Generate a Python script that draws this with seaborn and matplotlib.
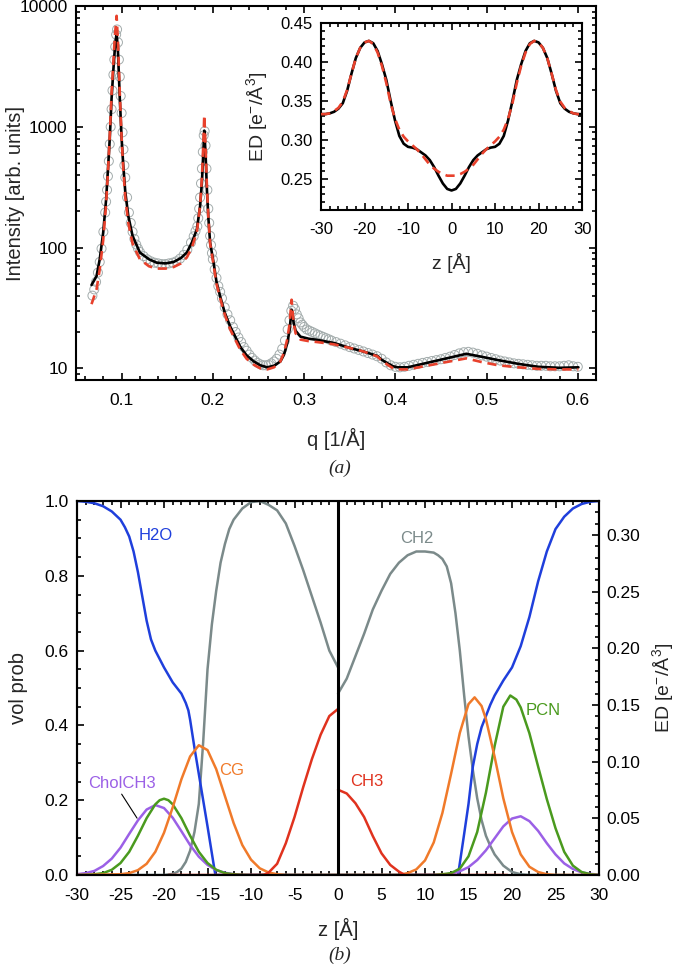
import matplotlib
matplotlib.use("Agg")
import matplotlib.pyplot as plt
import seaborn as sns
from matplotlib.ticker import MultipleLocator, FixedLocator, LogLocator, NullFormatter, FormatStrFormatter

sns.set_style("ticks")
plt.rcParams["font.family"] = ["Liberation Sans", "DejaVu Sans"]
plt.rcParams["mathtext.default"] = "regular"
plt.rcParams["axes.linewidth"] = 1.5
plt.rcParams["axes.unicode_minus"] = False

# ---------------- (a) scattering data ----------------
q_data = [0.068, 0.070, 0.072, 0.074, 0.076, 0.078, 0.080, 0.082, 0.083, 0.084,
          0.085, 0.086, 0.087, 0.088, 0.089, 0.090, 0.091, 0.092, 0.093, 0.094,
          0.095, 0.096, 0.097, 0.098, 0.099, 0.100, 0.101, 0.102, 0.103, 0.104,
          0.106, 0.108, 0.110, 0.112, 0.114, 0.116, 0.118, 0.120, 0.124, 0.128,
          0.132, 0.136, 0.140, 0.144, 0.148, 0.152, 0.156, 0.160, 0.164, 0.168,
          0.172, 0.176, 0.179, 0.181, 0.183, 0.184, 0.185, 0.186, 0.187, 0.188,
          0.189, 0.190, 0.191, 0.192, 0.193, 0.194, 0.195, 0.196, 0.197, 0.198,
          0.199, 0.200, 0.202, 0.204, 0.206, 0.208, 0.210, 0.213, 0.216, 0.219,
          0.222, 0.225, 0.228, 0.231, 0.234, 0.237, 0.240, 0.243, 0.246, 0.249,
          0.252, 0.255, 0.258, 0.261, 0.264, 0.267, 0.270, 0.273, 0.276, 0.279,
          0.282, 0.284, 0.286, 0.288, 0.290, 0.292, 0.294, 0.296, 0.298, 0.300,
          0.303, 0.306, 0.309, 0.312, 0.315, 0.318, 0.321, 0.324, 0.327, 0.330,
          0.335, 0.340, 0.345, 0.350, 0.355, 0.360, 0.365, 0.370, 0.375, 0.380,
          0.385, 0.390, 0.395, 0.400, 0.405, 0.410, 0.415, 0.420, 0.425, 0.430,
          0.435, 0.440, 0.445, 0.450, 0.455, 0.460, 0.465, 0.470, 0.475, 0.480,
          0.485, 0.490, 0.495, 0.500, 0.505, 0.510, 0.515, 0.520, 0.525, 0.530,
          0.535, 0.540, 0.545, 0.550, 0.555, 0.560, 0.565, 0.570, 0.575, 0.580,
          0.585, 0.590, 0.595, 0.600]
I_data = [40, 45, 52, 62, 76, 98, 135, 195, 240, 300,
          390, 520, 720, 1000, 1400, 2000, 2700, 3600, 4600, 5800,
          6400, 5000, 3600, 2600, 1800, 1300, 900, 650, 480, 380,
          260, 195, 160, 135, 118, 106, 98, 92, 85, 80,
          77, 75, 74, 73, 73, 74, 75, 77, 81, 87,
          96, 110, 124, 137, 150, 175, 210, 260, 340, 450,
          620, 850, 920, 700, 450, 300, 210, 160, 125, 105,
          90, 80, 66, 56, 48, 43, 38, 32, 28, 25,
          22, 20, 18, 16.5, 15, 14, 13, 12.2, 11.6, 11.1,
          10.8, 10.6, 10.6, 10.7, 11, 11.4, 12, 13, 14.5, 17,
          21, 25, 30, 33, 31, 28, 26, 24, 23, 22,
          21, 20.5, 20, 19.5, 19, 18.6, 18.2, 17.8, 17.4, 17,
          16.5, 16, 15.5, 15, 14.6, 14.2, 13.8, 13.4, 13, 12.6,
          12, 11.2, 10.6, 10.3, 10.2, 10.3, 10.5, 10.7, 10.9, 11.1,
          11.3, 11.5, 11.7, 11.9, 12.2, 12.5, 12.9, 13.3, 13.6, 13.7,
          13.5, 13.2, 12.8, 12.5, 12.2, 11.9, 11.6, 11.4, 11.2, 11.0,
          10.9, 10.8, 10.7, 10.6, 10.5, 10.5, 10.5, 10.4, 10.4, 10.4,
          10.5, 10.6, 10.4, 10.3]

q_fit = [0.067, 0.0725, 0.076, 0.0798, 0.083, 0.0853, 0.087, 0.089, 0.091, 0.0926,
         0.0945, 0.096, 0.098, 0.100, 0.1018, 0.104, 0.1073, 0.112, 0.120, 0.130,
         0.1385, 0.148, 0.157, 0.165, 0.1715, 0.177, 0.1825, 0.186, 0.188, 0.1895,
         0.1906, 0.192, 0.1935, 0.195, 0.197, 0.2008, 0.204, 0.208, 0.213, 0.219,
         0.225, 0.230, 0.237, 0.245, 0.252, 0.2596, 0.267, 0.274, 0.278, 0.2816,
         0.284, 0.2863, 0.2885, 0.2907, 0.296, 0.305, 0.3146, 0.333, 0.351, 0.365,
         0.377, 0.380, 0.385, 0.3916, 0.3976, 0.4026, 0.4136, 0.4457, 0.4778, 0.494,
         0.5127, 0.5347, 0.5567, 0.580, 0.6007]
I_fit_black = [49, 58, 80, 133, 250, 480, 800, 1720, 3000, 4470,
               6000, 4200, 1720, 800, 480, 290, 183, 125, 91, 80,
               75, 74, 76, 82, 91, 110, 142, 220, 347, 600,
               930, 600, 300, 180, 110, 75, 52, 39.5, 29, 22.2,
               18, 15.1, 12.8, 11.4, 10.6, 10.2, 10.5, 11.4, 13, 16.2,
               20.5, 30.6, 24, 20.5, 18.3, 17.6, 17.2, 16.2, 14.7, 13.8,
               12.9, 12.7, 11.8, 11.0, 10.4, 10.2, 10.2, 11.6, 13.2, 12.5,
               11.7, 10.9, 10.3, 10.1, 10.2]
I_fit_red = [34, 45, 66, 115, 230, 460, 850, 1900, 3500, 5600,
             8300, 5000, 1900, 800, 450, 260, 160, 108, 80, 70,
             67, 67, 69, 74, 83, 100, 135, 220, 380, 700,
             1250, 700, 320, 180, 108, 72, 50, 38, 28, 21,
             17, 14.3, 12.0, 10.7, 10.0, 9.8, 10.2, 11.4, 13.5, 17.5,
             23, 37, 24, 19.5, 17.3, 16.8, 16.5, 15.8, 14.7, 13.8,
             12.8, 12.6, 11.6, 10.7, 10.0, 9.8, 9.8, 10.9, 12.1, 11.3,
             10.6, 10.2, 9.9, 9.8, 9.8]

# ---------------- inset: electron density ----------------
z_ed = [-30, -29, -28, -27, -26, -25, -24, -23, -22, -21, -20, -19, -18, -17, -16,
        -15, -14, -13, -12, -11, -10, -9, -8, -7, -6, -5, -4, -3, -2, -1, 0,
        1, 2, 3, 4, 5, 6, 7, 8, 9, 10, 11, 12, 13, 14, 15,
        16, 17, 18, 19, 20, 21, 22, 23, 24, 25, 26, 27, 28, 29, 30]
ed_black = [0.333, 0.333, 0.334, 0.336, 0.340, 0.347, 0.363, 0.385, 0.405, 0.418, 0.425, 0.427, 0.424, 0.414, 0.397,
            0.377, 0.350, 0.325, 0.305, 0.295, 0.291, 0.290, 0.288, 0.284, 0.280, 0.274, 0.265, 0.254, 0.244, 0.237, 0.235,
            0.237, 0.244, 0.254, 0.265, 0.274, 0.280, 0.284, 0.288, 0.290, 0.291, 0.295, 0.305, 0.325, 0.350, 0.377,
            0.397, 0.414, 0.424, 0.427, 0.425, 0.418, 0.405, 0.385, 0.363, 0.347, 0.340, 0.336, 0.334, 0.333, 0.333]
ed_red = [0.333, 0.333, 0.334, 0.337, 0.341, 0.349, 0.364, 0.385, 0.405, 0.418, 0.425, 0.427, 0.423, 0.412, 0.395,
          0.373, 0.347, 0.327, 0.313, 0.304, 0.298, 0.293, 0.288, 0.282, 0.275, 0.268, 0.263, 0.259, 0.256, 0.254, 0.254,
          0.254, 0.256, 0.259, 0.263, 0.268, 0.275, 0.282, 0.288, 0.293, 0.298, 0.304, 0.313, 0.327, 0.347, 0.373,
          0.395, 0.412, 0.423, 0.427, 0.425, 0.418, 0.405, 0.385, 0.364, 0.349, 0.341, 0.337, 0.334, 0.333, 0.333]

# ---------------- (b) volume probabilities ----------------
# left half (z < 0)
z_h2o_l = [-30, -29, -28, -27, -26, -25, -24.5, -24, -23.5, -23, -22.5, -22, -21.5, -21, -20,
           -19, -18, -17.5, -17.2, -17, -16.5, -16, -15, -14.1, -10, -5, 0]
h2o_l = [1.0, 0.998, 0.994, 0.986, 0.972, 0.95, 0.93, 0.905, 0.865, 0.81, 0.745, 0.68, 0.63, 0.6, 0.555,
         0.515, 0.485, 0.46, 0.44, 0.415, 0.34, 0.27, 0.13, 0.0, 0.0, 0.0, 0.0]
z_ch2_l = [-30, -20, -19, -18.5, -18, -17.5, -17, -16.5, -16, -15.5, -15, -14.5, -14, -13.5, -13,
           -12.5, -12, -11, -10, -9, -8, -7, -6, -5, -4, -3, -2, -1, 0]
ch2_l = [0.0, 0.0, 0.003, 0.008, 0.017, 0.035, 0.065, 0.115, 0.19, 0.355, 0.55, 0.67, 0.76, 0.835, 0.885,
         0.925, 0.95, 0.98, 0.997, 1.0, 0.99, 0.975, 0.94, 0.88, 0.815, 0.745, 0.675, 0.6, 0.555]
z_cg_l = [-30, -25, -24, -23, -22, -21, -20, -19, -18, -17, -16, -15, -14, -13, -12,
          -11, -10, -9, -8, -7, -6, 0]
cg_l = [0.0, 0.002, 0.005, 0.013, 0.03, 0.062, 0.113, 0.181, 0.256, 0.317, 0.347, 0.334, 0.283, 0.211, 0.139,
        0.08, 0.041, 0.018, 0.007, 0.002, 0.0, 0.0]
z_chol_l = [-30, -29, -28, -27, -26, -25, -24, -23, -22, -21, -20, -19, -18, -17, -16,
            -15, -14, -13, -12, -11, 0]
chol_l = [0.002, 0.005, 0.011, 0.024, 0.044, 0.073, 0.110, 0.146, 0.175, 0.187, 0.179, 0.153, 0.117, 0.080, 0.049,
          0.027, 0.013, 0.006, 0.002, 0.0, 0.0]
z_pcn_l = [-30, -29, -28, -27, -26, -25, -24, -23, -22, -21, -20.5, -20, -19.5, -19, -18,
           -17, -16, -15, -14, -13, -12, -11, -10, 0]
pcn_l = [0.0, 0.0005, 0.002, 0.005, 0.014, 0.032, 0.062, 0.105, 0.152, 0.189, 0.2, 0.204, 0.2, 0.189, 0.152,
         0.105, 0.062, 0.032, 0.014, 0.005, 0.002, 0.0005, 0.0, 0.0]
z_ch3_l = [-19.5, -9, -8.5, -8, -7, -6, -5, -4, -3, -2, -1, 0]
ch3_l = [0.0, 0.0, 0.001, 0.006, 0.03, 0.085, 0.155, 0.235, 0.31, 0.375, 0.425, 0.444]

# right half (z > 0)
z_h2o_r = [0, 13.8, 14.5, 15, 15.5, 16, 16.5, 17, 17.5, 18, 19, 20, 21, 22, 23,
           24, 25, 26, 27, 28, 29, 30]
h2o_r = [0.0, 0.0, 0.11, 0.19, 0.29, 0.35, 0.395, 0.425, 0.455, 0.48, 0.52, 0.555, 0.612, 0.69, 0.785,
         0.865, 0.925, 0.958, 0.98, 0.992, 0.998, 1.0]
z_ch2_r = [0, 1, 2, 3, 4, 5, 6, 7, 8, 9, 10, 11, 11.5, 12, 12.5,
           13, 13.5, 14, 14.5, 15, 15.5, 16, 16.5, 17, 17.5, 18, 19, 20, 21, 22, 30]
ch2_r = [0.485, 0.525, 0.585, 0.645, 0.71, 0.76, 0.805, 0.835, 0.855, 0.865, 0.865, 0.862, 0.855, 0.845, 0.825,
         0.78, 0.70, 0.60, 0.48, 0.37, 0.28, 0.205, 0.147, 0.105, 0.078, 0.055, 0.025, 0.008, 0.002, 0.0, 0.0]
z_cg_r = [0, 7, 8, 9, 10, 11, 12, 13, 14, 15, 15.7, 16.5, 17, 18, 19,
          20, 21, 22, 23, 24, 25, 30]
cg_r = [0.0, 0.0, 0.005, 0.015, 0.039, 0.087, 0.166, 0.271, 0.380, 0.457, 0.475, 0.452, 0.417, 0.316, 0.205,
        0.115, 0.055, 0.022, 0.008, 0.002, 0.0, 0.0]
z_pcn_r = [0, 11, 12, 13, 14, 15, 16, 17, 18, 19, 19.8, 20.5, 21, 22, 23,
           24, 25, 26, 27, 28, 29, 30]
pcn_r = [0.0, 0.0, 0.002, 0.005, 0.017, 0.05, 0.115, 0.22, 0.345, 0.45, 0.48, 0.469, 0.448, 0.379, 0.29,
         0.203, 0.125, 0.062, 0.025, 0.008, 0.002, 0.0]
z_chol_r = [0, 12, 13, 14, 15, 16, 17, 18, 19, 20, 21, 22, 23, 24, 25,
            26, 27, 28, 29, 30]
chol_r = [0.0, 0.0, 0.004, 0.010, 0.021, 0.040, 0.066, 0.098, 0.130, 0.151, 0.157, 0.144, 0.118, 0.085, 0.055,
          0.031, 0.016, 0.007, 0.003, 0.001]
z_ch3_r = [0, 1, 2, 3, 4, 5, 6, 7, 7.7, 19.5]
ch3_r = [0.228, 0.218, 0.192, 0.155, 0.104, 0.058, 0.027, 0.009, 0.0, 0.0]

c_h2o = "#1f3fdc"
c_ch2 = "#7b8a8a"
c_cg = "#f07a2a"
c_ch3 = "#e0321e"
c_pcn = "#4a9a1e"
c_chol = "#9b60e6"
c_dash = "#e8412c"

fig = plt.figure(figsize=(6.78, 9.77), dpi=100)


def tick_style(ax, xpad=9, ypad=6):
    ax.tick_params(which="both", direction="in", width=1.2, labelsize=12.5, colors="black")
    ax.tick_params(which="major", length=5)
    ax.tick_params(which="minor", length=3)
    ax.tick_params(axis="x", pad=xpad)
    ax.tick_params(axis="y", pad=ypad)
    for s in ax.spines.values():
        s.set_linewidth(1.5)
        s.set_color("black")


# ---------- panel (a) ----------
ax1 = fig.add_axes([0.1121, 0.6110, 0.7670, 0.3828])
sns.scatterplot(x=q_data, y=I_data, ax=ax1, marker="o", s=42, color="#a3acac",
                facecolor="none", edgecolor="#a3acac", linewidth=0.7, zorder=1)
sns.lineplot(x=q_fit, y=I_fit_black, ax=ax1, color="black", lw=1.9, zorder=3)
sns.lineplot(x=q_fit, y=I_fit_red, ax=ax1, color=c_dash, lw=1.9,
             linestyle=(0, (3.5, 2.2)), zorder=4)
ax1.set_yscale("log")
ax1.set_xlim(0.05, 0.62)
ax1.set_ylim(8, 10000)
ax1.yaxis.set_major_locator(FixedLocator([10, 100, 1000, 10000]))
ax1.set_yticklabels(["10", "100", "1000", "10000"])
ax1.yaxis.set_minor_locator(LogLocator(base=10, subs=range(2, 10)))
ax1.yaxis.set_minor_formatter(NullFormatter())
ax1.xaxis.set_major_locator(FixedLocator([0.1, 0.2, 0.3, 0.4, 0.5, 0.6]))
ax1.xaxis.set_major_formatter(FormatStrFormatter("%.1f"))
ax1.xaxis.set_minor_locator(MultipleLocator(0.02))
tick_style(ax1)
ax1.tick_params(which="both", top=True, right=True)
ax1.set_xlabel("q [1/Å]", fontsize=14.5)
ax1.set_ylabel("Intensity [arb. units]", fontsize=14.5)
ax1.xaxis.set_label_coords(0.5, -0.128)
ax1.yaxis.set_label_coords(-0.098, 0.5)

# inset
axi = fig.add_axes([0.4735, 0.7851, 0.3850, 0.1914])
sns.lineplot(x=z_ed, y=ed_black, ax=axi, color="black", lw=1.9, zorder=3)
sns.lineplot(x=z_ed, y=ed_red, ax=axi, color=c_dash, lw=1.9,
             linestyle=(0, (3.5, 2.2)), zorder=4)
axi.set_xlim(-30, 30)
axi.set_ylim(0.21, 0.45)
axi.xaxis.set_major_locator(MultipleLocator(10))
axi.xaxis.set_minor_locator(MultipleLocator(2))
axi.yaxis.set_major_locator(FixedLocator([0.25, 0.30, 0.35, 0.40, 0.45]))
axi.yaxis.set_major_formatter(FormatStrFormatter("%.2f"))
axi.yaxis.set_minor_locator(MultipleLocator(0.01))
tick_style(axi)
axi.tick_params(which="both", top=True, right=True, labelsize=12)
axi.set_xlabel("z [Å]", fontsize=14)
axi.set_ylabel(r"ED [e$^{-}$/Å$^{3}$]", fontsize=14)
axi.xaxis.set_label_coords(0.5, -0.23)
axi.yaxis.set_label_coords(-0.195, 0.5)

fig.text(0.5015, 1 - 468 / 977, "(a)", ha="center", va="center",
         family=["Liberation Serif", "DejaVu Serif"], style="italic", fontsize=14)

# ---------- panel (b) ----------
ax2 = fig.add_axes([0.1136, 0.1044, 0.7699, 0.3828])
left_curves = [(z_ch2_l, ch2_l, c_ch2), (z_h2o_l, h2o_l, c_h2o), (z_chol_l, chol_l, c_chol),
               (z_pcn_l, pcn_l, c_pcn), (z_cg_l, cg_l, c_cg), (z_ch3_l, ch3_l, c_ch3)]
right_curves = [(z_ch2_r, ch2_r, c_ch2), (z_h2o_r, h2o_r, c_h2o), (z_chol_r, chol_r, c_chol),
                (z_pcn_r, pcn_r, c_pcn), (z_cg_r, cg_r, c_cg), (z_ch3_r, ch3_r, c_ch3)]
for zz, vv, cc in left_curves + right_curves:
    sns.lineplot(x=zz, y=vv, ax=ax2, color=cc, lw=1.8, zorder=2)
ax2.axvline(0, color="black", lw=2.2, zorder=5)
ax2.set_xlim(-30, 30)
ax2.set_ylim(0, 1.0)
ax2.xaxis.set_major_locator(MultipleLocator(5))
ax2.xaxis.set_minor_locator(MultipleLocator(1))
ax2.yaxis.set_major_locator(MultipleLocator(0.2))
ax2.yaxis.set_major_formatter(FormatStrFormatter("%.1f"))
ax2.yaxis.set_minor_locator(MultipleLocator(0.05))
tick_style(ax2)
ax2.tick_params(which="both", top=True, right=False)
ax2.set_xlabel("z [Å]", fontsize=14.5)
ax2.set_ylabel("vol prob", fontsize=14.5)
ax2.xaxis.set_label_coords(0.5, -0.115)
ax2.yaxis.set_label_coords(-0.094, 0.5)

ax2r = ax2.twinx()
ax2r.set_ylim(0, 0.33)
ax2r.yaxis.set_major_locator(FixedLocator([0.0, 0.05, 0.10, 0.15, 0.20, 0.25, 0.30]))
ax2r.yaxis.set_major_formatter(FormatStrFormatter("%.2f"))
ax2r.yaxis.set_minor_locator(MultipleLocator(0.01))
tick_style(ax2r, ypad=5)
ax2r.set_ylabel(r"ED [e$^{-}$/Å$^{3}$]", fontsize=14)
ax2r.yaxis.set_label_coords(1.097, 0.5)

lab = dict(fontsize=12, ha="center", va="center")
ax2.text(-21.0, 0.909, "H2O", color=c_h2o, **lab)
ax2.text(9.1, 0.899, "CH2", color=c_ch2, **lab)
ax2.text(-12.2, 0.28, "CG", color=c_cg, **lab)
ax2.text(3.3, 0.249, "CH3", color=c_ch3, **lab)
ax2.text(23.6, 0.44, "PCN", color=c_pcn, **lab)
ax2.annotate("CholCH3", xy=(-23.1, 0.152), xytext=(-24.8, 0.245), color=c_chol,
             arrowprops=dict(arrowstyle="-", color="black", lw=0.8,
                             relpos=(0.46, 0.0), shrinkA=0, shrinkB=0), **lab)

fig.text(0.5015, 1 - 955 / 977, "(b)", ha="center", va="center",
         family=["Liberation Serif", "DejaVu Serif"], style="italic", fontsize=14)

fig.savefig("out.png", dpi=100)
